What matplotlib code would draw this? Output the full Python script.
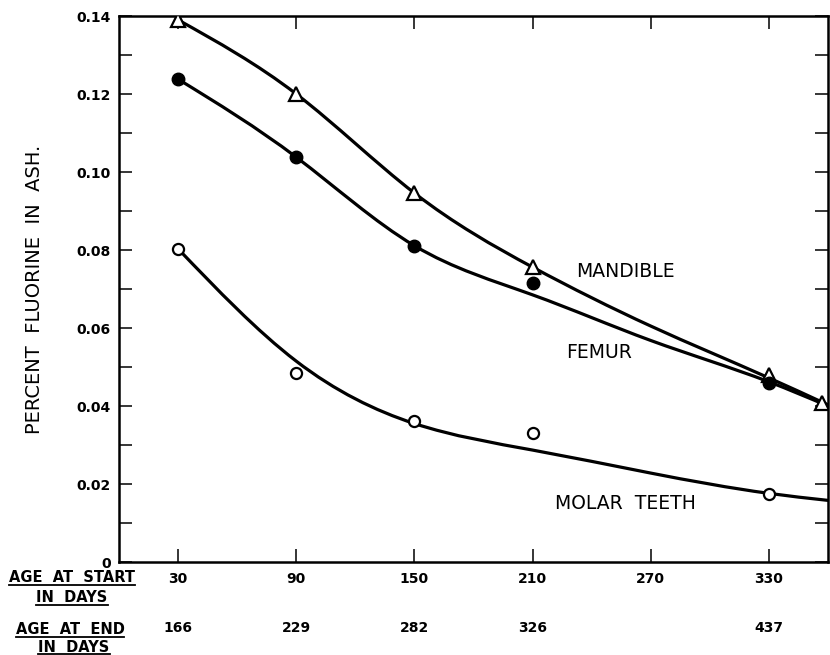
import numpy as np
import matplotlib
matplotlib.use("Agg")
import matplotlib.pyplot as plt
from matplotlib.path import Path
from matplotlib.patches import PathPatch
from matplotlib.lines import Line2D
import matplotlib.transforms as mtransforms

# ---------------- data ----------------
start_age = [30, 90, 150, 210, 270, 330]
start_labels = ["30", "90", "150", "210", "270", "330"]
end_pos = [30, 90, 150, 210, 330]
end_labels = ["166", "229", "282", "326", "437"]

mandible_x = [30, 90, 150, 210, 330, 357]
mandible_y = [0.139, 0.120, 0.0946, 0.0756, 0.048, 0.0408]
femur_x = [30, 90, 150, 210, 330]
femur_y = [0.1238, 0.1038, 0.0811, 0.0715, 0.0459]
molar_x = [30, 90, 150, 210, 330]
molar_y = [0.0803, 0.0485, 0.0362, 0.0331, 0.0174]

# smooth fitted curves, knots
mandible_curve_x = [30, 90, 150, 210, 270, 330, 360]
mandible_curve_y = [0.139, 0.120, 0.0946, 0.0756, 0.0605, 0.0472, 0.0403]
femur_curve_x = [30, 90, 150, 210, 270, 330, 360]
femur_curve_y = [0.1238, 0.1038, 0.0811, 0.0685, 0.0568, 0.0462, 0.0400]
molar_curve_x = [30, 90, 150, 210, 270, 330, 360]
molar_curve_y = [0.0803, 0.0515, 0.0355, 0.0287, 0.0228, 0.0176, 0.0158]


def smooth_path(xs, ys):
    """Natural cubic spline through the knots, drawn as Bezier segments."""
    xs = np.asarray(xs, float)
    ys = np.asarray(ys, float)
    n = len(xs)
    h = np.diff(xs)
    d = np.diff(ys) / h
    A = np.zeros((n, n))
    b = np.zeros(n)
    A[0, 0], A[0, 1], b[0] = 2, 1, 3 * d[0]
    A[-1, -2], A[-1, -1], b[-1] = 1, 2, 3 * d[-1]
    for i in range(1, n - 1):
        A[i, i - 1] = h[i]
        A[i, i] = 2 * (h[i - 1] + h[i])
        A[i, i + 1] = h[i - 1]
        b[i] = 3 * (h[i] * d[i - 1] + h[i - 1] * d[i])
    m = np.linalg.solve(A, b)
    verts = [(xs[0], ys[0])]
    codes = [Path.MOVETO]
    for i in range(n - 1):
        c1 = (xs[i] + h[i] / 3, ys[i] + m[i] * h[i] / 3)
        c2 = (xs[i + 1] - h[i] / 3, ys[i + 1] - m[i + 1] * h[i] / 3)
        verts += [c1, c2, (xs[i + 1], ys[i + 1])]
        codes += [Path.CURVE4] * 3
    return Path(verts, codes)


fig = plt.figure(figsize=(8.30, 6.55), dpi=100)
ax = fig.add_axes([119 / 830, 1 - 562 / 655, (828 - 119) / 830, (562 - 16) / 655])
ax.set_xlim(0, 360)
ax.set_ylim(0, 0.14)

lw = 2.3
for cx, cy in [(mandible_curve_x, mandible_curve_y),
               (femur_curve_x, femur_curve_y),
               (molar_curve_x, molar_curve_y)]:
    ax.add_patch(PathPatch(smooth_path(cx, cy), facecolor="none",
                           edgecolor="black", lw=lw, zorder=2,
                           capstyle="round"))

ax.plot(mandible_x, mandible_y, linestyle="none", marker="^", ms=10,
        mfc="white", mec="black", mew=1.6, zorder=3)
ax.plot(femur_x, femur_y, linestyle="none", marker="o", ms=9,
        mfc="black", mec="black", zorder=3)
ax.plot(molar_x, molar_y, linestyle="none", marker="o", ms=8,
        mfc="white", mec="black", mew=1.6, zorder=3)

# labels on curves
lab_kw = dict(fontsize=13.5, ha="center", va="center", color="black")
ax.text(257, 0.0744, "MANDIBLE", **lab_kw)
ax.text(244, 0.0536, "FEMUR", **lab_kw)
ax.text(257, 0.0151, "MOLAR  TEETH", **lab_kw)

# ticks
ax.set_xticks(start_age)
ax.set_xticklabels(start_labels)
ax.set_yticks(np.arange(0, 0.1401, 0.02))
ax.set_yticklabels(["0", "0.02", "0.04", "0.06", "0.08", "0.10", "0.12", "0.14"])
ax.set_yticks(np.arange(0.01, 0.14, 0.02), minor=True)
ax.tick_params(axis="both", which="both", direction="in", length=9.5,
               width=1.1, top=True, right=True, color="black")
ax.tick_params(axis="y", which="major", pad=6)
ax.tick_params(axis="x", which="major", pad=7)
for lab in ax.get_xticklabels() + ax.get_yticklabels():
    lab.set_fontsize(10)
    lab.set_fontweight("bold")
for s in ax.spines.values():
    s.set_linewidth(1.8)

# second row of x labels (age at end)
trans = mtransforms.blended_transform_factory(ax.transData, fig.transFigure)
for xp, lab in zip(end_pos, end_labels):
    ax.text(xp, 1 - 628 / 655, lab, transform=trans, ha="center", va="center",
            fontsize=10, fontweight="bold", clip_on=False)

# y axis label
fig.text(35 / 830, 1 - 289 / 655, "PERCENT  FLUORINE  IN  ASH.", rotation=90,
         ha="center", va="center", fontsize=14)

# row headings with underlines
heads = [("AGE  AT  START", 72, 578, 585),
         ("IN  DAYS", 72, 597.5, 605),
         ("AGE  AT  END", 70, 629.5, 637),
         ("IN  DAYS", 74, 647.5, 654)]
texts = []
for s, xpx, ypx, upx in heads:
    t = fig.text(xpx / 830, 1 - ypx / 655, s, ha="center", va="center",
                 fontsize=10.5, fontweight="bold")
    texts.append((t, upx))
fig.canvas.draw()
r = fig.canvas.get_renderer()
for t, upx in texts:
    bb = t.get_window_extent(r)
    x0 = bb.x0 / fig.bbox.width
    x1 = bb.x1 / fig.bbox.width
    fig.add_artist(Line2D([x0, x1], [1 - upx / 655] * 2, color="black",
                          lw=1.3, transform=fig.transFigure))

fig.savefig("out.png", dpi=100)
